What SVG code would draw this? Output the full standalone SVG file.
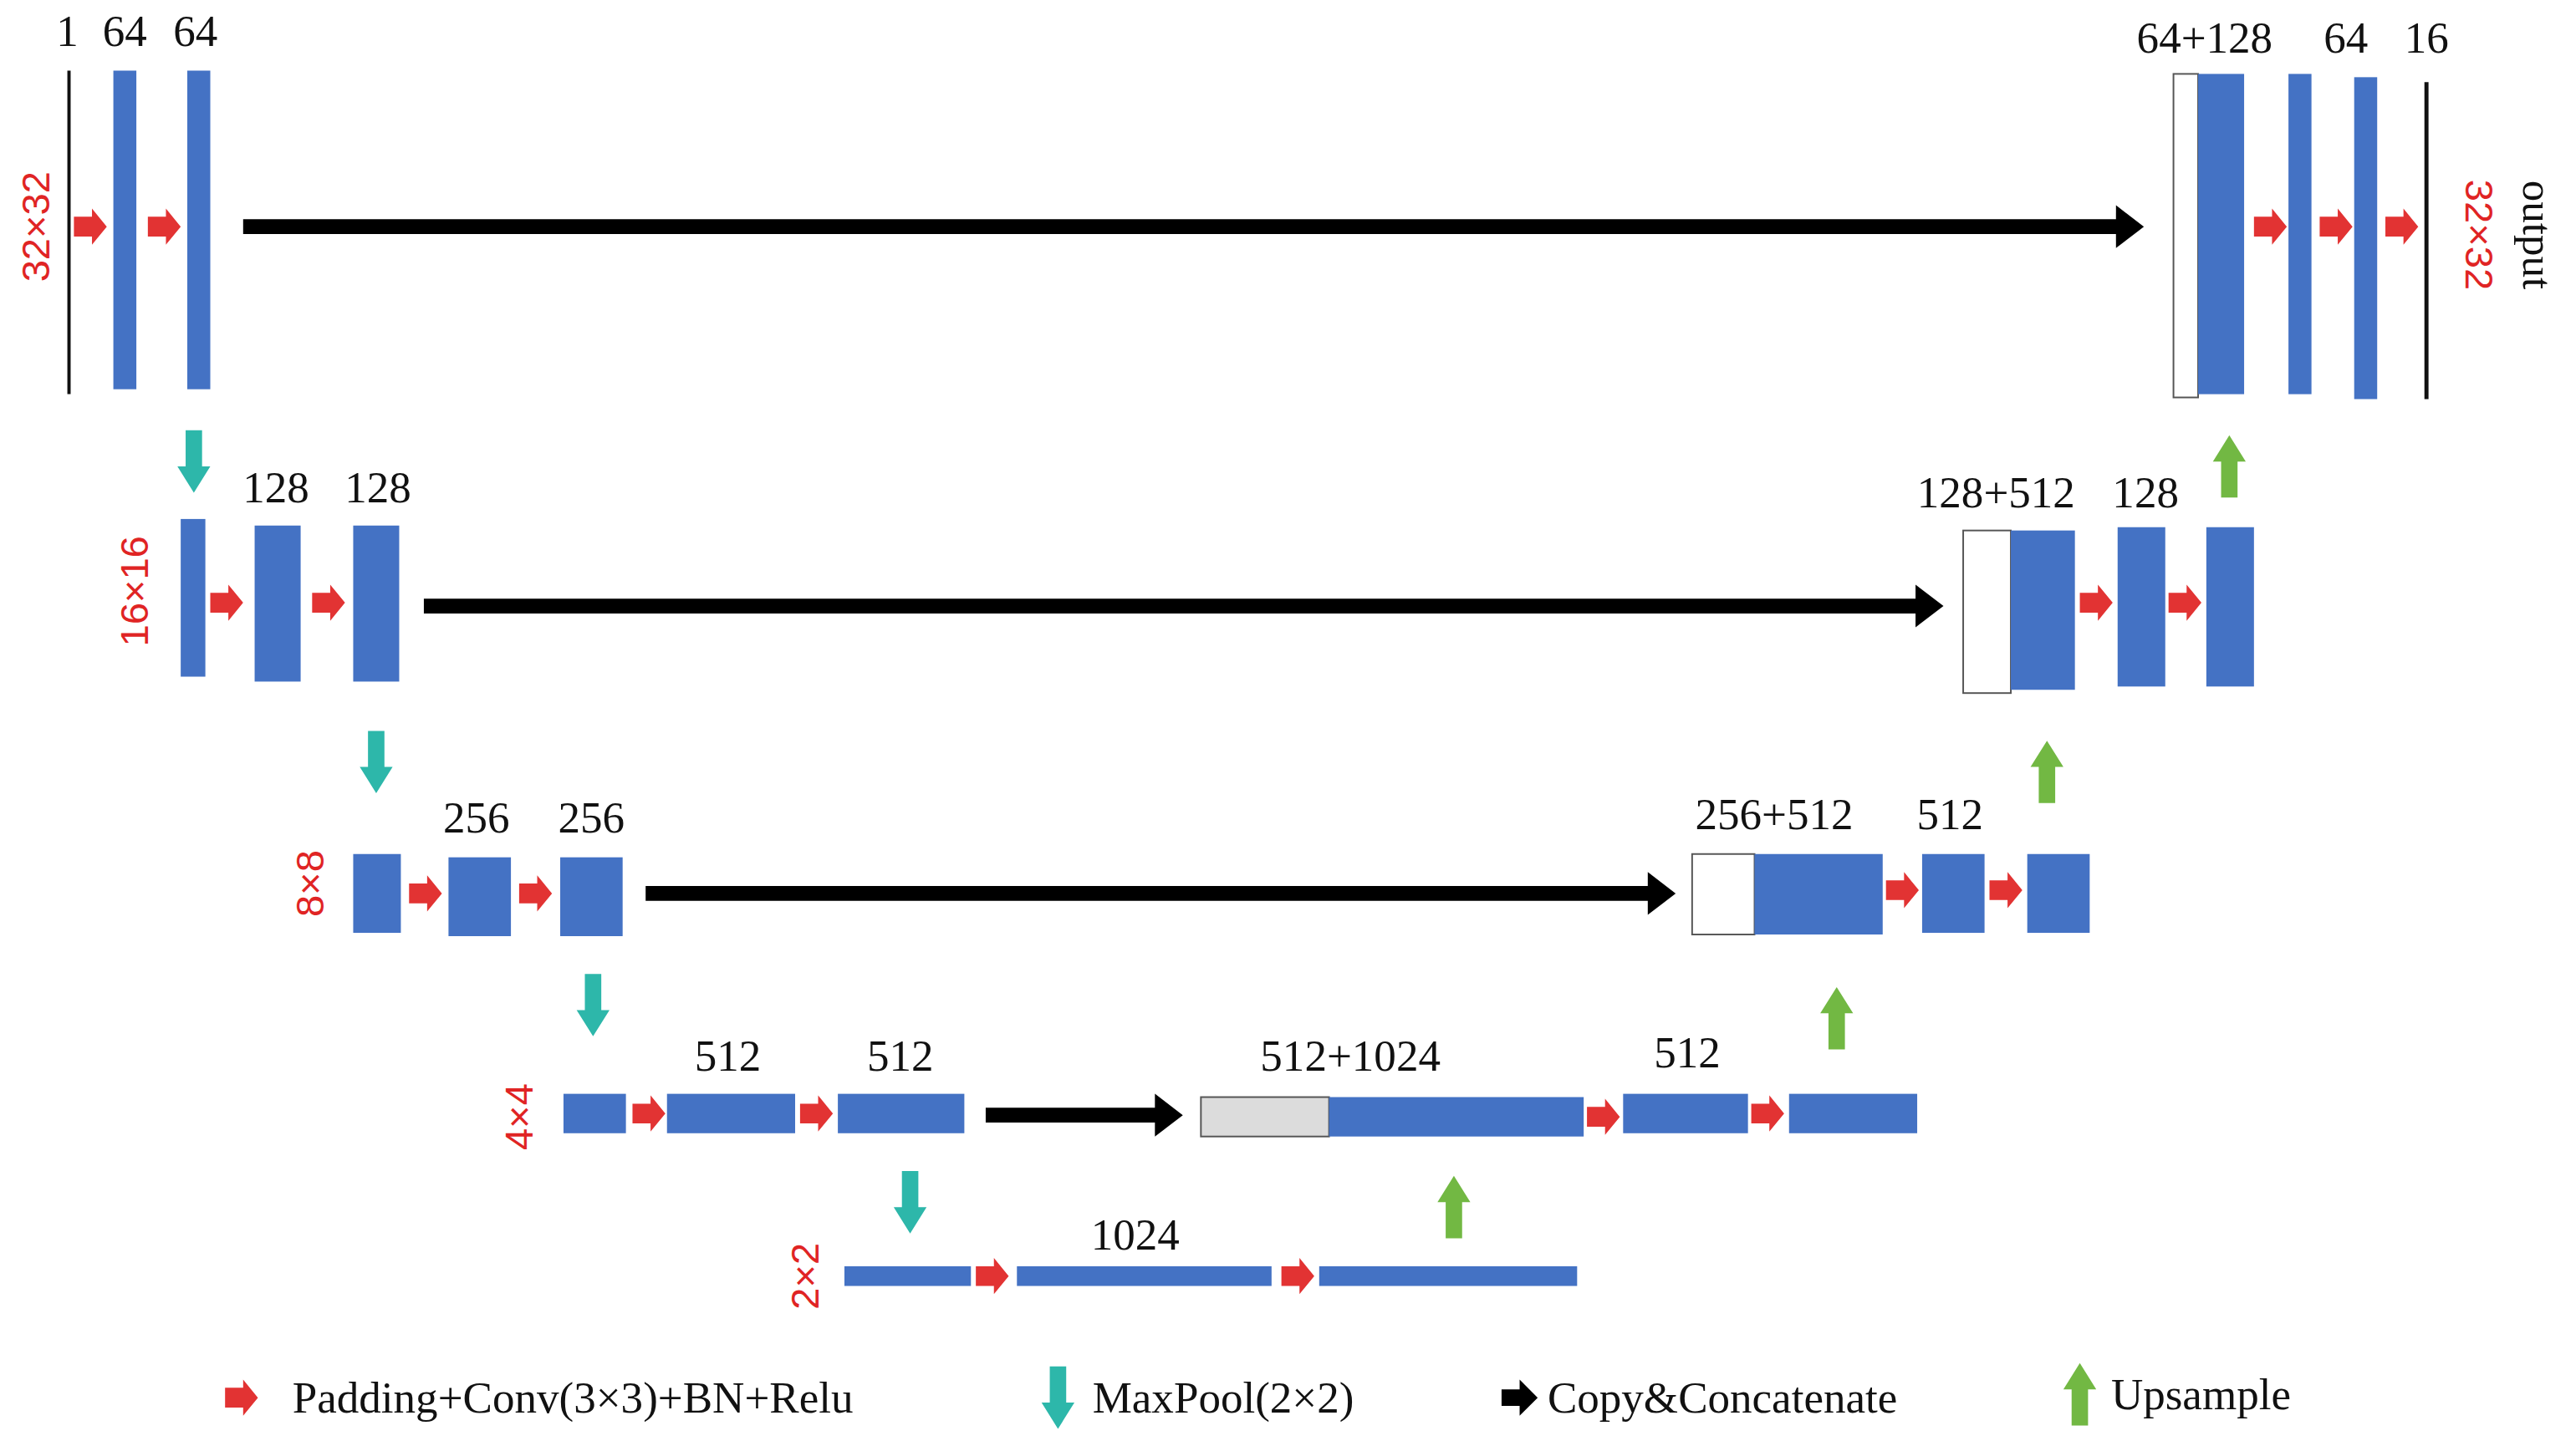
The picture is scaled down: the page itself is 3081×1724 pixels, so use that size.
<svg xmlns="http://www.w3.org/2000/svg" xmlns:xlink="http://www.w3.org/1999/xlink" width="3081" height="1724" viewBox="0 0 3081 1724">
<style>
.b{fill:#4472C4}
.w{fill:#fff;stroke:#555;stroke-width:1}
.g{fill:#dcdcdc;stroke:#555;stroke-width:1}
.t{font-family:"Liberation Serif",serif;font-size:27px;fill:#111;text-anchor:middle}
.r{font-family:"Liberation Sans",sans-serif;font-size:24px;fill:#E02424;text-anchor:middle}
.o{font-family:"Liberation Serif",serif;font-size:26px;fill:#111;text-anchor:middle}
.lg{font-family:"Liberation Serif",serif;font-size:27px;fill:#111}
.cp{stroke:#000;stroke-width:9;fill:none}
</style>
<defs>
<path id="ra" d="M-10,-6 H1 V-11 L10,0 L1,11 V6 H-10 Z" fill="#E23333"/>
<path id="da" d="M-5,-19 H5 V3 H10 L0,19 L-10,3 H-5 Z" fill="#2DB7AA"/>
<path id="ua" d="M-5,19 H5 V-3 H10 L0,-19 L-10,-3 H-5 Z" fill="#72B843"/>
<path id="ka" d="M-11,-5 H0 V-11 L11,0 L0,11 V5 H-11 Z" fill="#000"/>
</defs>
<rect width="3081" height="1724" fill="#fff"/>
<g transform="scale(1.9649)">
<g id="level1-enc">
<line x1="42" y1="43" x2="42" y2="240" stroke="#111" stroke-width="2"/>
<rect class="b" x="69" y="43" width="14" height="194"/>
<rect class="b" x="114" y="43" width="14" height="194"/>
<text class="t" x="41" y="28">1</text><text class="t" x="76" y="28">64</text><text class="t" x="119" y="28">64</text>
<text class="r" transform="translate(30,138) rotate(-90)">32×32</text>
</g>
<g id="level1-dec">
<rect class="w" x="1323" y="45" width="15" height="197"/>
<rect class="b" x="1338" y="45" width="28" height="195"/>
<rect class="b" x="1393" y="45" width="14" height="195"/>
<rect class="b" x="1433" y="47" width="14" height="196"/>
<line x1="1477" y1="50" x2="1477" y2="243" stroke="#111" stroke-width="2.5"/>
<text class="t" x="1342" y="32">64+128</text><text class="t" x="1428" y="32">64</text><text class="t" x="1477" y="32">16</text>
<text class="r" transform="translate(1501,143) rotate(90)">32×32</text>
<text class="o" transform="translate(1536,143) rotate(90)">output</text>
</g>
<g id="level2-enc">
<rect class="b" x="110" y="316" width="15" height="96"/>
<rect class="b" x="155" y="320" width="28" height="95"/>
<rect class="b" x="215" y="320" width="28" height="95"/>
<text class="t" x="168" y="306">128</text><text class="t" x="230" y="306">128</text>
<text class="r" transform="translate(90,360) rotate(-90)">16×16</text>
</g>
<g id="level2-dec">
<rect class="w" x="1195" y="323" width="29" height="99"/>
<rect class="b" x="1224" y="323" width="39" height="97"/>
<rect class="b" x="1289" y="321" width="29" height="97"/>
<rect class="b" x="1343" y="321" width="29" height="97"/>
<text class="t" x="1215" y="309">128+512</text><text class="t" x="1306" y="309">128</text>
</g>
<g id="level3-enc">
<rect class="b" x="215" y="520" width="29" height="48"/>
<rect class="b" x="273" y="522" width="38" height="48"/>
<rect class="b" x="341" y="522" width="38" height="48"/>
<text class="t" x="290" y="507">256</text><text class="t" x="360" y="507">256</text>
<text class="r" transform="translate(197,538) rotate(-90)">8×8</text>
</g>
<g id="level3-dec">
<rect class="w" x="1030" y="520" width="38" height="49"/>
<rect class="b" x="1068" y="520" width="78" height="49"/>
<rect class="b" x="1170" y="520" width="38" height="48"/>
<rect class="b" x="1234" y="520" width="38" height="48"/>
<text class="t" x="1080" y="505">256+512</text><text class="t" x="1187" y="505">512</text>
</g>
<g id="level4-enc">
<rect class="b" x="343" y="666" width="38" height="24"/>
<rect class="b" x="406" y="666" width="78" height="24"/>
<rect class="b" x="510" y="666" width="77" height="24"/>
<text class="t" x="443" y="652">512</text><text class="t" x="548" y="652">512</text>
<text class="r" transform="translate(324,680) rotate(-90)">4×4</text>
</g>
<g id="level4-dec">
<rect class="g" x="731" y="668" width="78" height="24"/>
<rect class="b" x="809" y="668" width="155" height="24"/>
<rect class="b" x="988" y="666" width="76" height="24"/>
<rect class="b" x="1089" y="666" width="78" height="24"/>
<text class="t" x="822" y="652">512+1024</text><text class="t" x="1027" y="650">512</text>
</g>
<g id="level5">
<rect class="b" x="514" y="771" width="77" height="12"/>
<rect class="b" x="619" y="771" width="155" height="12"/>
<rect class="b" x="803" y="771" width="157" height="12"/>
<text class="t" x="691" y="761">1024</text>
<text class="r" transform="translate(498,777) rotate(-90)">2×2</text>
</g>
<g id="connectors">
<line class="cp" x1="148" y1="138" x2="1292" y2="138"/><polygon points="1288,125 1305,138 1288,151"/>
<line class="cp" x1="258" y1="369" x2="1170" y2="369"/><polygon points="1166,356 1183,369 1166,382"/>
<line class="cp" x1="393" y1="544" x2="1007" y2="544"/><polygon points="1003,531 1020,544 1003,557"/>
<line class="cp" x1="600" y1="679" x2="707" y2="679"/><polygon points="703,666 720,679 703,692"/>
<use xlink:href="#ra" x="55" y="138"/><use xlink:href="#ra" x="100" y="138"/>
<use xlink:href="#ra" x="1382" y="138"/><use xlink:href="#ra" x="1422" y="138"/><use xlink:href="#ra" x="1462" y="138"/>
<use xlink:href="#ra" x="138" y="367"/><use xlink:href="#ra" x="200" y="367"/>
<use xlink:href="#ra" x="1276" y="367"/><use xlink:href="#ra" x="1330" y="367"/>
<use xlink:href="#ra" x="259" y="544"/><use xlink:href="#ra" x="326" y="544"/>
<use xlink:href="#ra" x="1158" y="542"/><use xlink:href="#ra" x="1221" y="542"/>
<use xlink:href="#ra" x="395" y="678"/><use xlink:href="#ra" x="497" y="678"/>
<use xlink:href="#ra" x="976" y="680"/><use xlink:href="#ra" x="1076" y="678"/>
<use xlink:href="#ra" x="604" y="777"/><use xlink:href="#ra" x="790" y="777"/>
<use xlink:href="#da" x="118" y="281"/><use xlink:href="#da" x="229" y="464"/><use xlink:href="#da" x="361" y="612"/><use xlink:href="#da" x="554" y="732"/>
<use xlink:href="#ua" x="1357" y="284"/><use xlink:href="#ua" x="1246" y="470"/><use xlink:href="#ua" x="1118" y="620"/><use xlink:href="#ua" x="885" y="735"/>
</g>
<g id="legend">
<use xlink:href="#ra" x="147" y="851"/><text class="lg" x="178" y="860">Padding+Conv(3×3)+BN+Relu</text>
<use xlink:href="#da" x="644" y="851" transform="rotate(0)"/>
<text class="lg" x="665" y="860">MaxPool(2×2)</text>
<use xlink:href="#ka" x="925" y="851"/><text class="lg" x="942" y="860">Copy&amp;Concatenate</text>
<use xlink:href="#ua" x="1266" y="849"/><text class="lg" x="1285" y="858">Upsample</text>
</g>
</g>
</svg>
